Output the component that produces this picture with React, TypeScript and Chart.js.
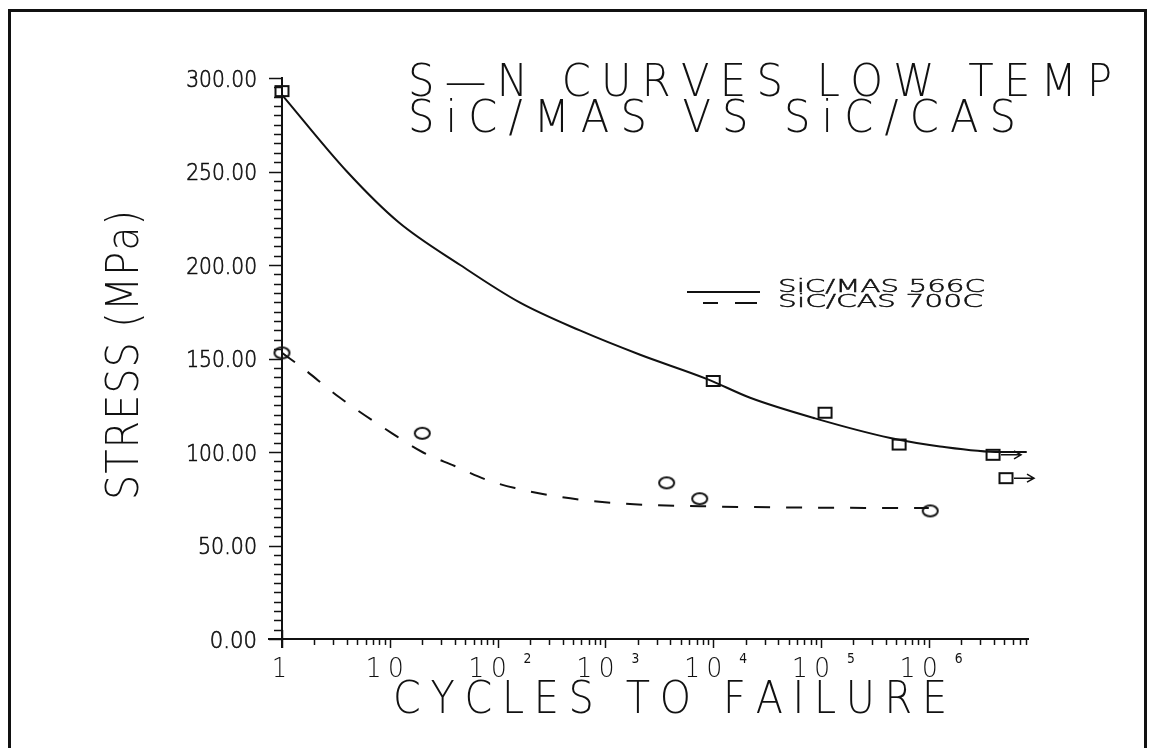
import React, { useEffect, useRef } from "react";
import { Chart, registerables } from "chart.js";

Chart.register(...registerables);

// ---- data ----
const MAS_CYCLES = [1, 1.0e4, 1.09e5, 5.3e5, 3.94e6, 5.2e6];
const MAS_STRESS = [293, 138, 121, 104, 98.5, 86];
const MAS_RUNOUT = [false, false, false, false, true, true];

const CAS_CYCLES = [1, 20, 3700, 7500, 1.03e6];
const CAS_STRESS = [153, 110, 83.5, 75, 68.5];

const MAS_FIT_CYCLES = [1, 4, 12, 45, 160, 580, 2100, 8800, 2.2e4, 8.8e4, 4.4e5, 1.27e6, 4.6e6, 8.1e6];
const MAS_FIT_STRESS = [291, 250, 223, 200, 180, 165, 152, 139, 129, 118, 107.5, 103, 100, 100];

const CAS_FIT_CYCLES = [1, 1.47, 3.45, 10.5, 20, 40, 80, 145, 380, 1380, 7600, 6.4e4, 1.0e6];
const CAS_FIT_STRESS = [153, 146, 129, 110, 100, 92.5, 85, 80.7, 76, 72.5, 71, 70.3, 70];

const Y_TICKS = [0, 50, 100, 150, 200, 250, 300];
const Y_TICK_LABELS = ["0.00", "50.00", "100.00", "150.00", "200.00", "250.00", "300.00"];
const X_DECADES = [1, 10, 100, 1e3, 1e4, 1e5, 1e6];
const X_TICK_BASE = ["1", "10", "10", "10", "10", "10", "10"];
const X_TICK_EXP = ["", "", "2", "3", "4", "5", "6"];

const X_MIN = 1;
const X_MAX = 8.5e6;
const Y_MIN = 0;
const Y_MAX = 300;

const TITLE_LINES = ["S\u2014N CURVES LOW TEMP", "SiC/MAS VS SiC/CAS"];
const X_TITLE = "CYCLES TO FAILURE";
const Y_TITLE = "STRESS (MPa)";
const LEGEND_LABELS = ["SiC/MAS 566C", "SiC/CAS 700C"];

const PLOT_FONT = '"DejaVu Sans", "Liberation Sans", sans-serif';
const ROUND_FONT = '"DejaVu Sans", "Liberation Sans", sans-serif';

function drawSpread(
  ctx: CanvasRenderingContext2D,
  text: string,
  left: number,
  baseline: number,
  capH: number,
  targetW: number,
  family: string,
  weight: string,
  sx: number
) {
  const size = capH / 0.73;
  ctx.save();
  ctx.font = `${weight} ${size}px ${family}`;
  ctx.textAlign = "left";
  ctx.textBaseline = "alphabetic";
  const chars = Array.from(text);
  const widths = chars.map((c) => ctx.measureText(c).width * sx);
  const natural = widths.reduce((a, b) => a + b, 0);
  const gap = chars.length > 1 ? (targetW - natural) / (chars.length - 1) : 0;
  let cx = left;
  chars.forEach((c, i) => {
    ctx.save();
    ctx.translate(cx, baseline);
    ctx.scale(sx, 1);
    ctx.fillText(c, 0, 0);
    ctx.restore();
    cx += widths[i] + gap;
  });
  ctx.restore();
}

function drawFit(
  ctx: CanvasRenderingContext2D,
  text: string,
  x: number,
  baseline: number,
  capH: number,
  targetW: number,
  family: string,
  weight: string,
  align: "left" | "right" | "center",
  strokeW: number
) {
  const size = capH / 0.73;
  ctx.save();
  ctx.font = `${weight} ${size}px ${family}`;
  ctx.textBaseline = "alphabetic";
  ctx.textAlign = "left";
  const w = ctx.measureText(text).width;
  const s = targetW / w;
  const left = align === "left" ? x : align === "right" ? x - targetW : x - targetW / 2;
  ctx.translate(left, baseline);
  ctx.scale(s, 1);
  ctx.fillText(text, 0, 0);
  if (strokeW > 0) {
    ctx.lineWidth = strokeW;
    ctx.strokeText(text, 0, 0);
  }
  ctx.restore();
}

function makeSquare(): HTMLCanvasElement {
  const c = document.createElement("canvas");
  c.width = 17;
  c.height = 14;
  const g = c.getContext("2d")!;
  g.strokeStyle = "#111";
  g.lineWidth = 2;
  g.strokeRect(2, 2, 13, 10);
  return c;
}

function makeOval(): HTMLCanvasElement {
  const c = document.createElement("canvas");
  c.width = 19;
  c.height = 15;
  const g = c.getContext("2d")!;
  g.strokeStyle = "#111";
  g.lineWidth = 2;
  g.beginPath();
  g.ellipse(9.5, 7.5, 7.5, 5.5, 0, 0, Math.PI * 2);
  g.stroke();
  return c;
}

const decorPlugin = {
  id: "decor",
  afterDraw(chart: any) {
    const ctx: CanvasRenderingContext2D = chart.ctx;
    const xs = chart.scales.x;
    const ys = chart.scales.y;
    const x0 = xs.getPixelForValue(X_MIN);
    const y0 = ys.getPixelForValue(Y_MIN);
    const yTop = ys.getPixelForValue(Y_MAX);
    const xEnd = xs.getPixelForValue(X_MAX);
    ctx.save();
    ctx.strokeStyle = "#111";
    ctx.fillStyle = "#111";

    // frame
    ctx.lineWidth = 3;
    ctx.strokeRect(9.5, 10.5, 1136, 800);

    // y axis
    ctx.lineWidth = 2;
    ctx.beginPath();
    ctx.moveTo(x0, yTop - 1);
    ctx.lineTo(x0, y0 + 9);
    ctx.stroke();
    ctx.lineWidth = 1.5;
    for (let v = Y_MIN; v <= Y_MAX; v += 5) {
      const py = Math.round(ys.getPixelForValue(v)) + 0.5;
      const len = v % 50 === 0 ? 13 : 8;
      ctx.beginPath();
      ctx.moveTo(x0 - len, py);
      ctx.lineTo(x0, py);
      ctx.stroke();
    }
    // y labels
    Y_TICKS.forEach((v, i) => {
      const py = ys.getPixelForValue(v);
      const lab = Y_TICK_LABELS[i];
      const w = lab.length * 11.8;
      drawFit(ctx, lab, 257, py + 8.5, 17, w, ROUND_FONT, "200", "right", 0.7);
    });

    // x axis
    ctx.lineWidth = 2;
    ctx.beginPath();
    ctx.moveTo(x0 - 14, y0);
    ctx.lineTo(xEnd, y0);
    ctx.stroke();
    ctx.lineWidth = 1.5;
    X_DECADES.forEach((d) => {
      for (let m = 1; m <= 9; m++) {
        const v = d * m;
        if (v > X_MAX) break;
        const px = Math.round(xs.getPixelForValue(v)) + 0.5;
        const major = m === 1;
        ctx.beginPath();
        ctx.moveTo(px, major && d === 1 ? y0 - 9 : y0);
        ctx.lineTo(px, y0 + (major ? 9 : 6));
        ctx.stroke();
      }
    });
    // x labels
    X_DECADES.forEach((d, i) => {
      const px = xs.getPixelForValue(d);
      const base = X_TICK_BASE[i];
      const exp = X_TICK_EXP[i];
      if (base === "1") {
        drawSpread(ctx, base, px - 10, 677, 19, 10, PLOT_FONT, "200", 0.9);
      } else if (!exp) {
        drawSpread(ctx, base, px - 24, 677, 19, 38, PLOT_FONT, "200", 0.95);
      } else {
        drawSpread(ctx, base, px - 29, 677, 19, 38, PLOT_FONT, "200", 0.95);
        drawSpread(ctx, exp, px + 26, 663, 10, 9, PLOT_FONT, "normal", 0.9);
      }
    });

    // axis titles
    drawSpread(ctx, X_TITLE, 393, 713, 33, 554, PLOT_FONT, "200", 0.88);
    ctx.save();
    ctx.translate(138, 500);
    ctx.rotate(-Math.PI / 2);
    drawSpread(ctx, Y_TITLE, 0, 0, 33, 290, PLOT_FONT, "200", 0.88);
    ctx.restore();

    // chart title
    drawSpread(ctx, TITLE_LINES[0], 408, 96, 32, 704, PLOT_FONT, "200", 0.95);
    drawSpread(ctx, TITLE_LINES[1], 408, 132, 32, 608, PLOT_FONT, "200", 0.95);

    // legend
    ctx.lineWidth = 2;
    ctx.beginPath();
    ctx.moveTo(687, 292);
    ctx.lineTo(760, 292);
    ctx.stroke();
    ctx.beginPath();
    ctx.moveTo(703, 303);
    ctx.lineTo(718, 303);
    ctx.moveTo(735, 303);
    ctx.lineTo(757, 303);
    ctx.stroke();
    drawFit(ctx, LEGEND_LABELS[0], 778, 292, 13.5, 207, ROUND_FONT, "200", "left", 0.5);
    drawFit(ctx, LEGEND_LABELS[1], 778, 307, 13.5, 205, ROUND_FONT, "200", "left", 0.5);

    // run-out arrows
    const meta = chart.getDatasetMeta(0);
    ctx.lineWidth = 1.5;
    meta.data.forEach((pt: any, i: number) => {
      if (!MAS_RUNOUT[i]) return;
      const sx = pt.x + 8;
      const ex = pt.x + 28;
      const py = pt.y;
      ctx.beginPath();
      ctx.moveTo(sx, py);
      ctx.lineTo(ex, py);
      ctx.moveTo(ex - 7, py - 4);
      ctx.lineTo(ex, py);
      ctx.lineTo(ex - 7, py + 4);
      ctx.stroke();
    });
    ctx.restore();
  },
};

export default function App() {
  const ref = useRef<HTMLCanvasElement | null>(null);
  useEffect(() => {
    if (!ref.current) return;
    const square = makeSquare();
    const oval = makeOval();
    const pts = (xs: number[], ys: number[]) => xs.map((x, i) => ({ x, y: ys[i] }));
    const chart = new Chart(ref.current, {
      type: "scatter",
      data: {
        datasets: [
          {
            label: "SiC/MAS 566C points",
            data: pts(MAS_CYCLES, MAS_STRESS),
            pointStyle: square as any,
            pointRadius: 6,
            showLine: false,
            clip: false as any,
          },
          {
            label: "SiC/CAS 700C points",
            data: pts(CAS_CYCLES, CAS_STRESS),
            pointStyle: oval as any,
            pointRadius: 6,
            showLine: false,
            clip: false as any,
          },
          {
            label: "SiC/MAS 566C",
            data: pts(MAS_FIT_CYCLES, MAS_FIT_STRESS),
            showLine: true,
            pointRadius: 0,
            borderColor: "#111",
            borderWidth: 2,
            cubicInterpolationMode: "monotone",
            clip: false as any,
          },
          {
            label: "SiC/CAS 700C",
            data: pts(CAS_FIT_CYCLES, CAS_FIT_STRESS),
            showLine: true,
            pointRadius: 0,
            borderColor: "#111",
            borderWidth: 2,
            borderDash: [16, 16],
            cubicInterpolationMode: "monotone",
            clip: false as any,
          },
        ] as any,
      },
      options: {
        animation: false,
        responsive: false,
        devicePixelRatio: 1,
        layout: { padding: { left: 282, right: 121, top: 78, bottom: 109 } },
        plugins: { legend: { display: false }, tooltip: { enabled: false }, title: { display: false } },
        scales: {
          x: { type: "logarithmic", min: X_MIN, max: X_MAX, display: false },
          y: { type: "linear", min: Y_MIN, max: Y_MAX, display: false },
        },
      },
      plugins: [decorPlugin],
    });
    return () => chart.destroy();
  }, []);
  return (
    <div style={{ position: "fixed", left: 0, top: 0, width: 1150, height: 748, background: "#fff" }}>
      <canvas ref={ref} width={1150} height={748} style={{ width: 1150, height: 748, display: "block" }} />
    </div>
  );
}
